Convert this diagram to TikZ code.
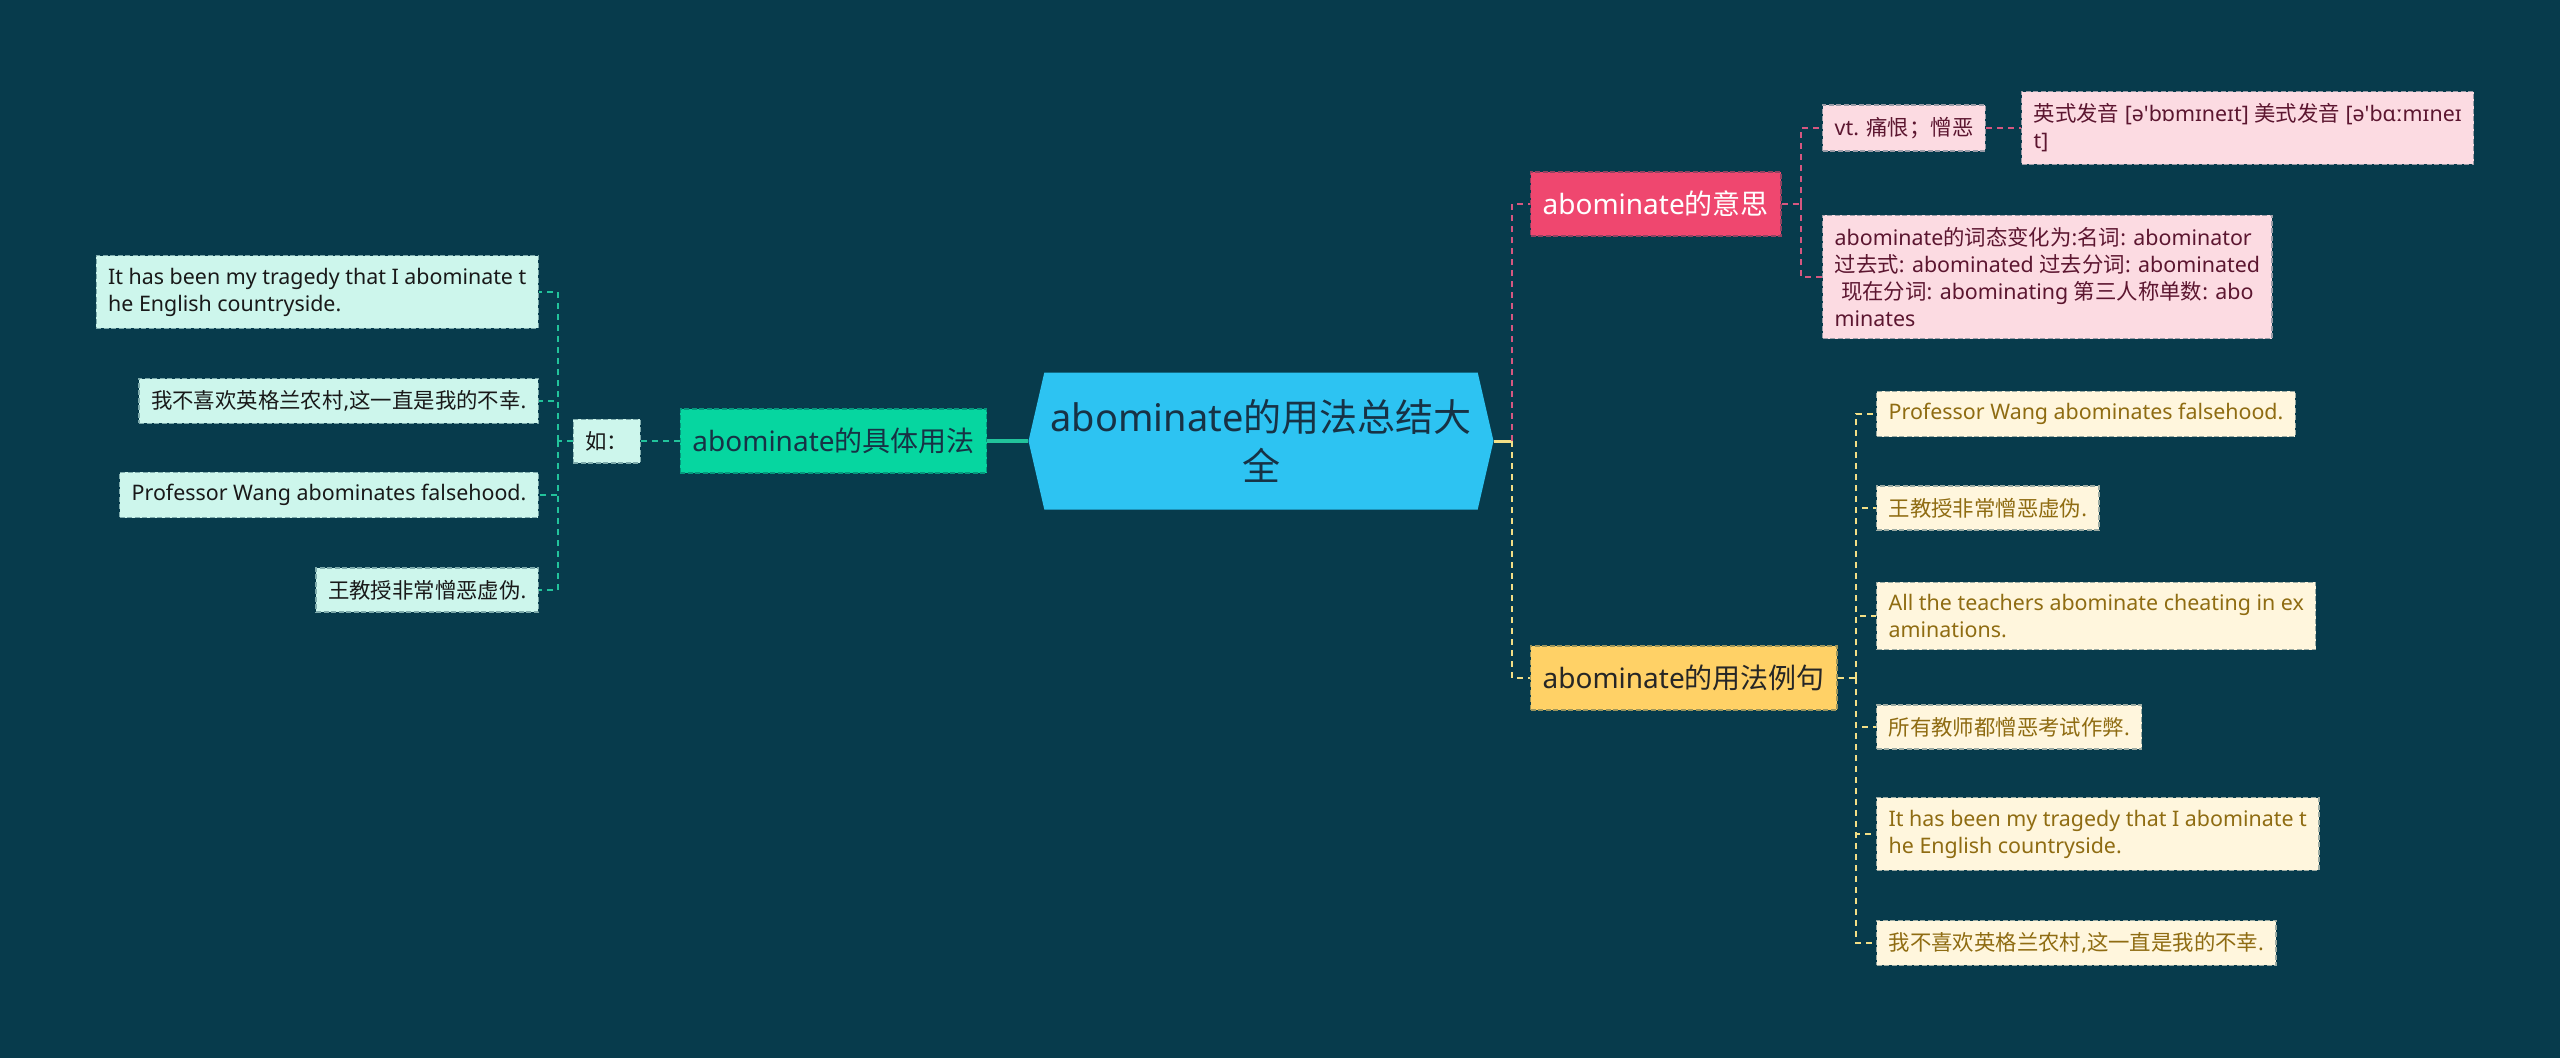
\documentclass[tikz,border=0pt]{standalone}
\usepackage{fontspec}
\setmainfont{Noto Sans}
\newfontfamily\zhfont{Noto Sans CJK SC}
\newcommand{\zhtext}[1]{{\zhfont #1}}
\usepackage{tikz}
\usetikzlibrary{positioning, shapes.symbols}

\definecolor{bgnavy}{HTML}{073B4C}
\definecolor{rootblue}{HTML}{2DC3F2}
\definecolor{rootink}{HTML}{173245}
\definecolor{usegreen}{HTML}{06D6A0}
\definecolor{mintleaf}{HTML}{CDF6EC}
\definecolor{meanpink}{HTML}{EF476F}
\definecolor{pinkleaf}{HTML}{FCDBE2}
\definecolor{pinkink}{HTML}{5C1630}
\definecolor{exyellow}{HTML}{FFD166}
\definecolor{creamleaf}{HTML}{FFF6DD}
\definecolor{creamink}{HTML}{8F6C12}
\definecolor{tealline}{HTML}{22C39B}
\definecolor{pinkline}{HTML}{D65780}
\definecolor{yellowline}{HTML}{F2DF86}

\begin{document}
\begin{tikzpicture}[
        x=1pt, y=-1pt,
        every node/.style={font=\fontsize{21.4}{27}\selectfont},
        mbox/.style={dashed, line width=1.3pt, dash pattern=on 5pt off 2.5pt,
            inner xsep=12pt, inner ysep=12pt, align=left},
        rootbox/.style={signal, signal to=west and east, signal pointer angle=154,
            fill=rootblue, minimum width=465pt, minimum height=137pt,
            align=center, text=rootink, font=\fontsize{38}{49}\selectfont},
        lvone/.style={mbox, minimum height=64pt, font=\fontsize{28}{34}\selectfont},
        greenone/.style={lvone, fill=usegreen, draw=usegreen!60!bgnavy, text=rootink},
        pinkone/.style={lvone, fill=meanpink, draw=meanpink!60!bgnavy, text=white},
        yellowone/.style={lvone, fill=exyellow, draw=exyellow!60!bgnavy, text=black!85},
        mintbox/.style={mbox, fill=mintleaf, draw=mintleaf!60!bgnavy, text=black!90},
        pinkbox/.style={mbox, fill=pinkleaf, draw=pinkleaf!60!bgnavy, text=pinkink},
        creambox/.style={mbox, fill=creamleaf, draw=creamleaf!60!bgnavy, text=creamink},
        link/.style={line width=2pt, dash pattern=on 6pt off 5pt}
    ]

    % --- Background ---
    \fill[bgnavy] (0,0) rectangle (2560,1058);

    % --- Root ---
    \node[rootbox] (root) at (1261,441) {abominate\zhtext{的用法总结大}\\\zhtext{全}};

    % --- Left branch ---
    \node[greenone, left=41pt of root] (usage) {abominate\zhtext{的具体用法}};
    \node[mintbox, left=39pt of usage] (ru) {\zhtext{如：}};

    \node[mintbox, anchor=east] (ltragedy) at (539,292)
        {It has been my tragedy that I abominate t\\he English countryside.};
    \node[mintbox, anchor=east] (lcountry) at (539,401)
        {\zhtext{我不喜欢英格兰农村}{,}\zhtext{这一直是我的不幸}.};
    \node[mintbox, anchor=east] (lwang) at (539,495)
        {Professor Wang abominates falsehood.};
    \node[mintbox, anchor=east] (lfalse) at (539,590)
        {\zhtext{王教授非常憎恶虚伪}.};

    % --- Right branch: meaning ---
    \node[pinkone, anchor=west] (meaning) at (1530,204) {abominate\zhtext{的意思}};

    \node[pinkbox, anchor=west] (vt) at (1822,128) {vt. \zhtext{痛恨；憎恶}};
    \node[pinkbox, anchor=west] (ipa) at (2021,128)
        {\zhtext{英式发音} [ə\textquotesingle bɒmɪneɪt] \zhtext{美式发音} [ə\textquotesingle bɑːmɪneɪ\\t]};
    \node[pinkbox, anchor=west] (forms) at (1822,277)
        {abominate\zhtext{的词态变化为}:\zhtext{名词}: abominator\\
         \zhtext{过去式}: abominated \zhtext{过去分词}: abominated\\
         \hspace*{0.3em}\zhtext{现在分词}: abominating \zhtext{第三人称单数}: abo\\
         minates};

    % --- Right branch: examples ---
    \node[yellowone, anchor=west] (examples) at (1530,678) {abominate\zhtext{的用法例句}};

    \node[creambox, anchor=west] (ywang) at (1876,414) {Professor Wang abominates falsehood.};
    \node[creambox, anchor=west] (yfalse) at (1876,508) {\zhtext{王教授非常憎恶虚伪}.};
    \node[creambox, anchor=west] (ycheat) at (1876,616)
        {All the teachers abominate cheating in ex\\aminations.};
    \node[creambox, anchor=west] (yexam) at (1876,727) {\zhtext{所有教师都憎恶考试作弊}.};
    \node[creambox, anchor=west] (ytragedy) at (1876,834)
        {It has been my tragedy that I abominate t\\he English countryside.};
    \node[creambox, anchor=west] (ycountry) at (1876,943)
        {\zhtext{我不喜欢英格兰农村}{,}\zhtext{这一直是我的不幸}.};

    % --- Connectors ---
    \coordinate (lbus) at (558,441);
    \coordinate (rbus) at (1512,441);
    \coordinate (pbus) at (1801,204);
    \coordinate (ybus) at (1856,678);

    \draw[tealline, line width=4pt] (root.west) -- (usage.east);
    \draw[tealline, link] (usage.west) -- (ru.east);
    \draw[tealline, link] (ru.west) -- (lbus);
    \foreach \leaf in {ltragedy, lcountry, lwang, lfalse}
        \draw[tealline, link] (lbus) |- (\leaf.east);

    \draw[yellowline, line width=3pt] (root.east) -- (rbus);
    \draw[pinkline, link] (rbus) |- (meaning.west);
    \draw[yellowline, link] (rbus) |- (examples.west);

    \draw[pinkline, link] (meaning.east) -- (pbus);
    \draw[pinkline, link] (pbus) |- (vt.west);
    \draw[pinkline, link] (pbus) |- (forms.west);
    \draw[pinkline, link] (vt.east) -- (ipa.west);

    \draw[yellowline, link] (examples.east) -- (ybus);
    \foreach \leaf in {ywang, yfalse, ycheat, yexam, ytragedy, ycountry}
        \draw[yellowline, link] (ybus) |- (\leaf.west);

\end{tikzpicture}
\end{document}
